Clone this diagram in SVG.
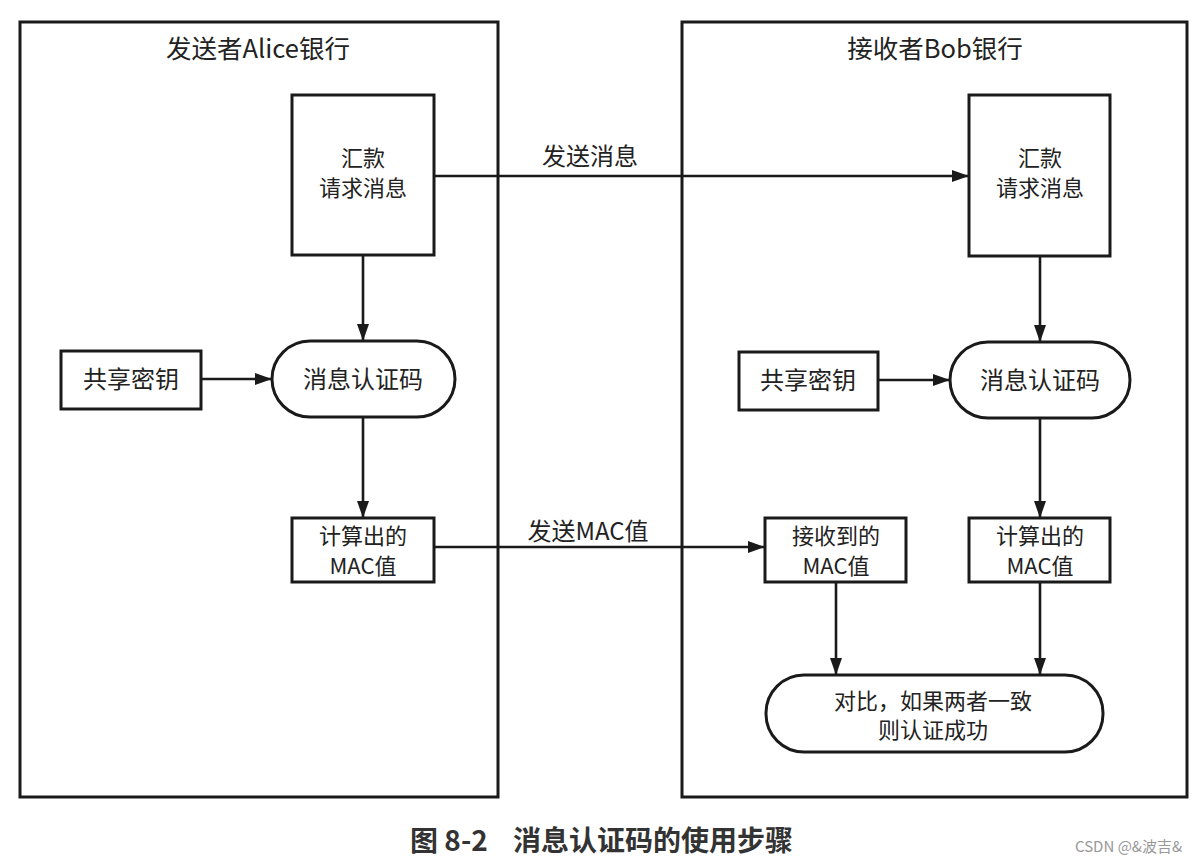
<svg xmlns="http://www.w3.org/2000/svg" width="1193" height="862" viewBox="0 0 1193 862">
<style>
.box{fill:#fff;stroke:#1a1a1a;stroke-width:3}
.frame{fill:none;stroke:#1a1a1a;stroke-width:3}
.t{font-family:"Noto Sans CJK SC","Noto Sans",sans-serif;font-size:24px;fill:#222;text-anchor:middle}
.m{font-size:22px}
.h{font-size:25.5px}
.ln{stroke:#1a1a1a;stroke-width:2.6;fill:none;marker-end:url(#ah)}
.cap{font-family:"Noto Sans CJK SC","Noto Sans",sans-serif;font-size:28px;font-weight:bold;fill:#333}
.wm{font-family:"Noto Sans CJK SC","Liberation Sans",sans-serif;font-size:15px;fill:#999}
</style>
<defs>
<marker id="ah" viewBox="0 0 17 12" refX="17" refY="6" markerWidth="17" markerHeight="12" markerUnits="userSpaceOnUse" orient="auto">
<path d="M0,0 L17,6 L0,12 Z" fill="#1a1a1a"/>
</marker>
</defs>
<rect width="1193" height="862" fill="#fff"/>

<g id="sender">
<rect class="frame" x="20" y="22" width="478" height="775"/>
<text class="t h" x="258" y="58">发送者Alice银行</text>
</g>
<g id="receiver">
<rect class="frame" x="682" y="22" width="505" height="775"/>
<text class="t h" x="935" y="58">接收者Bob银行</text>
</g>

<g id="connectors">
<line class="ln" x1="434" y1="176" x2="969" y2="176"/>
<line class="ln" x1="363" y1="255" x2="363" y2="341"/>
<line class="ln" x1="201" y1="379" x2="272" y2="379"/>
<line class="ln" x1="363" y1="417" x2="363" y2="518"/>
<line class="ln" x1="434" y1="547" x2="765" y2="547"/>
<line class="ln" x1="1040" y1="256" x2="1040" y2="342"/>
<line class="ln" x1="878" y1="380" x2="950" y2="380"/>
<line class="ln" x1="1040" y1="418" x2="1040" y2="518"/>
<line class="ln" x1="836" y1="582" x2="836" y2="675"/>
<line class="ln" x1="1040" y1="582" x2="1040" y2="675"/>
<text class="t" x="590" y="165">发送消息</text>
<text class="t" x="588" y="540">发送MAC值</text>
</g>

<g id="msgA">
<rect class="box" x="292" y="95" width="142" height="160"/>
<text class="t m" x="363" y="166">汇款</text>
<text class="t m" x="363" y="196">请求消息</text>
</g>
<g id="keyA">
<rect class="box" x="61" y="351" width="140" height="58"/>
<text class="t" x="131" y="388">共享密钥</text>
</g>
<g id="macA">
<rect class="box" x="272" y="341" width="183" height="76" rx="38"/>
<text class="t" x="363" y="388">消息认证码</text>
</g>
<g id="calcA">
<rect class="box" x="292" y="518" width="142" height="64"/>
<text class="t m" x="363" y="544">计算出的</text>
<text class="t m" x="363" y="574">MAC值</text>
</g>

<g id="msgB">
<rect class="box" x="969" y="95" width="141" height="161"/>
<text class="t m" x="1040" y="166">汇款</text>
<text class="t m" x="1040" y="196">请求消息</text>
</g>
<g id="keyB">
<rect class="box" x="739" y="352" width="139" height="58"/>
<text class="t" x="808" y="389">共享密钥</text>
</g>
<g id="macB">
<rect class="box" x="950" y="342" width="180" height="76" rx="38"/>
<text class="t" x="1040" y="389">消息认证码</text>
</g>
<g id="recvB">
<rect class="box" x="765" y="518" width="141" height="64"/>
<text class="t m" x="836" y="544">接收到的</text>
<text class="t m" x="836" y="574">MAC值</text>
</g>
<g id="calcB">
<rect class="box" x="969" y="518" width="141" height="64"/>
<text class="t m" x="1040" y="544">计算出的</text>
<text class="t m" x="1040" y="574">MAC值</text>
</g>
<g id="compare">
<rect class="box" x="766" y="675" width="337" height="77" rx="38"/>
<text class="t m" x="933" y="709">对比，如果两者一致</text>
<text class="t m" x="933" y="738">则认证成功</text>
</g>

<text class="cap" x="410" y="851">图 8-2</text>
<text class="cap" x="513" y="851">消息认证码的使用步骤</text>
<text class="wm" x="1075" y="852">CSDN @&amp;波吉&amp;</text>
</svg>
